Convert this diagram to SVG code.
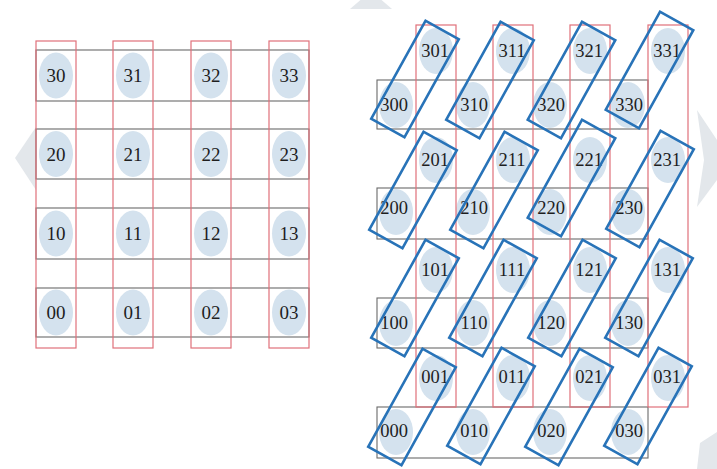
<svg xmlns="http://www.w3.org/2000/svg" width="717" height="469" viewBox="0 0 717 469">
<style>
.bg{fill:#ffffff}
.wm{fill:#e3e7eb}
.red{fill:none;stroke:#e0707a;stroke-width:1.2}
.band{fill:none;stroke:#6a6a6a;stroke-width:1.1}
.cell{fill:#d4e2ee}
.lbl{font-family:"Liberation Serif","Times New Roman",serif;font-size:19px;fill:#1e1e1e;text-anchor:middle}
.lbr{font-family:"Liberation Serif","Times New Roman",serif;font-size:18.5px;fill:#1e1e1e;text-anchor:middle}
.grp{fill:none;stroke:#2873b8;stroke-width:2.6}
</style>
<defs>
<rect id="pair" x="-19" y="-56" width="38" height="112" class="grp"/>
</defs>
<rect class="bg" x="0" y="0" width="717" height="469"/>
<g id="watermark">
<polygon class="wm" points="15,158 36,127 36,190"/>
<polygon class="wm" points="350,9 392,9 371,-9"/>
<polygon class="wm" points="697,110 717,140 717,180 697,207 704,160"/>
<polygon class="wm" points="697,469 700,443 717,432 717,469"/>
</g>
<g id="cells-left">
<ellipse class="cell" cx="56" cy="75.5" rx="17" ry="23"/><ellipse class="cell" cx="133" cy="75.5" rx="17" ry="23"/><ellipse class="cell" cx="211" cy="75.5" rx="17" ry="23"/><ellipse class="cell" cx="289" cy="75.5" rx="17" ry="23"/>
<ellipse class="cell" cx="56" cy="154" rx="17" ry="23"/><ellipse class="cell" cx="133" cy="154" rx="17" ry="23"/><ellipse class="cell" cx="211" cy="154" rx="17" ry="23"/><ellipse class="cell" cx="289" cy="154" rx="17" ry="23"/>
<ellipse class="cell" cx="56" cy="233.5" rx="17" ry="23"/><ellipse class="cell" cx="133" cy="233.5" rx="17" ry="23"/><ellipse class="cell" cx="211" cy="233.5" rx="17" ry="23"/><ellipse class="cell" cx="289" cy="233.5" rx="17" ry="23"/>
<ellipse class="cell" cx="56" cy="312.5" rx="17" ry="23"/><ellipse class="cell" cx="133" cy="312.5" rx="17" ry="23"/><ellipse class="cell" cx="211" cy="312.5" rx="17" ry="23"/><ellipse class="cell" cx="289" cy="312.5" rx="17" ry="23"/>
</g>
<g id="cells-right">
<ellipse class="cell" cx="436" cy="51" rx="17" ry="23"/><ellipse class="cell" cx="513" cy="51" rx="17" ry="23"/><ellipse class="cell" cx="590" cy="51" rx="17" ry="23"/><ellipse class="cell" cx="668" cy="51" rx="17" ry="23"/>
<ellipse class="cell" cx="396" cy="105" rx="17" ry="23"/><ellipse class="cell" cx="473" cy="105" rx="17" ry="23"/><ellipse class="cell" cx="550" cy="105" rx="17" ry="23"/><ellipse class="cell" cx="628" cy="105" rx="17" ry="23"/>
<ellipse class="cell" cx="436" cy="160" rx="17" ry="23"/><ellipse class="cell" cx="513" cy="160" rx="17" ry="23"/><ellipse class="cell" cx="590" cy="160" rx="17" ry="23"/><ellipse class="cell" cx="668" cy="160" rx="17" ry="23"/>
<ellipse class="cell" cx="396" cy="212" rx="17" ry="23"/><ellipse class="cell" cx="473" cy="212" rx="17" ry="23"/><ellipse class="cell" cx="550" cy="212" rx="17" ry="23"/><ellipse class="cell" cx="628" cy="212" rx="17" ry="23"/>
<ellipse class="cell" cx="436" cy="270" rx="17" ry="23"/><ellipse class="cell" cx="513" cy="270" rx="17" ry="23"/><ellipse class="cell" cx="590" cy="270" rx="17" ry="23"/><ellipse class="cell" cx="668" cy="270" rx="17" ry="23"/>
<ellipse class="cell" cx="396" cy="323" rx="17" ry="23"/><ellipse class="cell" cx="473" cy="323" rx="17" ry="23"/><ellipse class="cell" cx="550" cy="323" rx="17" ry="23"/><ellipse class="cell" cx="628" cy="323" rx="17" ry="23"/>
<ellipse class="cell" cx="436" cy="378" rx="17" ry="23"/><ellipse class="cell" cx="513" cy="378" rx="17" ry="23"/><ellipse class="cell" cx="590" cy="378" rx="17" ry="23"/><ellipse class="cell" cx="668" cy="378" rx="17" ry="23"/>
<ellipse class="cell" cx="396" cy="432" rx="17" ry="23"/><ellipse class="cell" cx="473" cy="432" rx="17" ry="23"/><ellipse class="cell" cx="550" cy="432" rx="17" ry="23"/><ellipse class="cell" cx="628" cy="432" rx="17" ry="23"/>
</g>
<g id="grid-left">
<rect class="band" x="36" y="50" width="273" height="51"/>
<rect class="band" x="36" y="129" width="273" height="50"/>
<rect class="band" x="36" y="208" width="273" height="51"/>
<rect class="band" x="36" y="288" width="273" height="49"/>
<rect class="red" x="36" y="41" width="40" height="307"/>
<rect class="red" x="113" y="41" width="40" height="307"/>
<rect class="red" x="191" y="41" width="40" height="307"/>
<rect class="red" x="269" y="41" width="40" height="307"/>
</g>
<g id="grid-right">
<rect class="band" x="377" y="80" width="271" height="49"/>
<rect class="band" x="377" y="188" width="271" height="51"/>
<rect class="band" x="377" y="298" width="271" height="50"/>
<rect class="band" x="377" y="407" width="271" height="51"/>
<rect class="red" x="416" y="25" width="40" height="382"/>
<rect class="red" x="493" y="25" width="40" height="382"/>
<rect class="red" x="570" y="25" width="40" height="382"/>
<rect class="red" x="648" y="25" width="40" height="382"/>
</g>
<g id="labels-left" class="lbl">
<text id="n30" x="56" y="82">30</text><text id="n31" x="133" y="82">31</text><text id="n32" x="211" y="82">32</text><text id="n33" x="289" y="82">33</text>
<text id="n20" x="56" y="160.5">20</text><text id="n21" x="133" y="160.5">21</text><text id="n22" x="211" y="160.5">22</text><text id="n23" x="289" y="160.5">23</text>
<text id="n10" x="56" y="240">10</text><text id="n11" x="133" y="240">11</text><text id="n12" x="211" y="240">12</text><text id="n13" x="289" y="240">13</text>
<text id="n00" x="56" y="319">00</text><text id="n01" x="133" y="319">01</text><text id="n02" x="211" y="319">02</text><text id="n03" x="289" y="319">03</text>
</g>
<g id="labels-right" class="lbr">
<text id="n301" x="435" y="57">301</text><text id="n311" x="512" y="57">311</text><text id="n321" x="589" y="57">321</text><text id="n331" x="667" y="57">331</text>
<text id="n300" x="394" y="111">300</text><text id="n310" x="474" y="111">310</text><text id="n320" x="551" y="111">320</text><text id="n330" x="629" y="111">330</text>
<text id="n201" x="435" y="166">201</text><text id="n211" x="512" y="166">211</text><text id="n221" x="589" y="166">221</text><text id="n231" x="667" y="166">231</text>
<text id="n200" x="394" y="214">200</text><text id="n210" x="474" y="214">210</text><text id="n220" x="551" y="214">220</text><text id="n230" x="629" y="214">230</text>
<text id="n101" x="435" y="276">101</text><text id="n111" x="512" y="276">111</text><text id="n121" x="589" y="276">121</text><text id="n131" x="667" y="276">131</text>
<text id="n100" x="394" y="329">100</text><text id="n110" x="474" y="329">110</text><text id="n120" x="551" y="329">120</text><text id="n130" x="629" y="329">130</text>
<text id="n001" x="435" y="383">001</text><text id="n011" x="512" y="383">011</text><text id="n021" x="589" y="383">021</text><text id="n031" x="667" y="383">031</text>
<text id="n000" x="394" y="437">000</text><text id="n010" x="474" y="437">010</text><text id="n020" x="551" y="437">020</text><text id="n030" x="629" y="437">030</text>
</g>
<g id="pairs">
<use href="#pair" transform="translate(415,79) rotate(29)"/>
<use href="#pair" transform="translate(490,80) rotate(29)"/>
<use href="#pair" transform="translate(571.5,80) rotate(29)"/>
<use href="#pair" transform="translate(649.5,70) rotate(29)"/>
<use href="#pair" transform="translate(413,190) rotate(29)"/>
<use href="#pair" transform="translate(494,190) rotate(29)"/>
<use href="#pair" transform="translate(571.5,178) rotate(29)"/>
<use href="#pair" transform="translate(650,189) rotate(29)"/>
<use href="#pair" transform="translate(415,298) rotate(29)"/>
<use href="#pair" transform="translate(493,298) rotate(29)"/>
<use href="#pair" transform="translate(572,298) rotate(29)"/>
<use href="#pair" transform="translate(649,298) rotate(29)"/>
<use href="#pair" transform="translate(412,407) rotate(29)"/>
<use href="#pair" transform="translate(491,406) rotate(29)"/>
<use href="#pair" transform="translate(569,407) rotate(29)"/>
<use href="#pair" transform="translate(648,406) rotate(29)"/>
</g>
</svg>
